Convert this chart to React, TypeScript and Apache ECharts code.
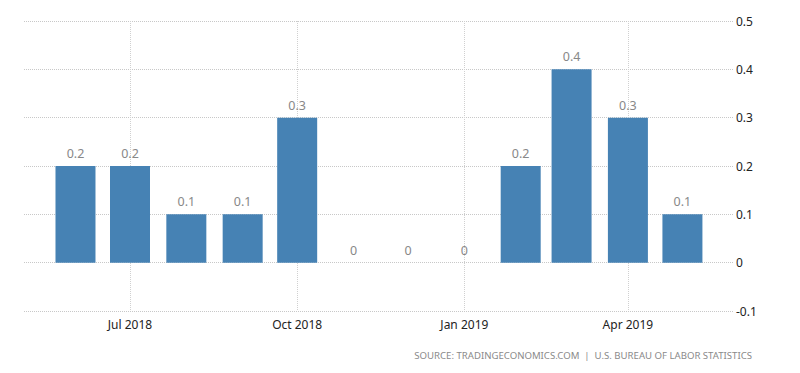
import React, { useEffect, useRef } from "react";
import * as echarts from "echarts";

const months = ["2018-06", "2018-07", "2018-08", "2018-09", "2018-10", "2018-11", "2018-12", "2019-01", "2019-02", "2019-03", "2019-04", "2019-05"];
const values = [0.2, 0.2, 0.1, 0.1, 0.3, 0, 0, 0, 0.2, 0.4, 0.3, 0.1];
const quarterTicks = ["2018-07", "2018-10", "2019-01", "2019-04"];
const monthNames = ["Jan", "Feb", "Mar", "Apr", "May", "Jun", "Jul", "Aug", "Sep", "Oct", "Nov", "Dec"];
const yTicks = { min: -0.1, max: 0.5, interval: 0.1 };
const sourceText = "SOURCE: TRADINGECONOMICS.COM  |  U.S. BUREAU OF LABOR STATISTICS";

const toTs = (ym: string, day = 1, hour = 0) => {
  const [y, m] = ym.split("-").map(Number);
  return Date.UTC(y, m - 1, day, hour);
};

const FONT = "'Noto Sans', 'DejaVu Sans', sans-serif";

export default function App() {
  const ref = useRef<HTMLDivElement>(null);
  useEffect(() => {
    document.body.style.margin = "0";
    if (!ref.current) return;
    const chart = echarts.init(ref.current, undefined, { renderer: "svg" });
    const tickTs = quarterTicks.map((q) => toTs(q));
    chart.setOption({
      animation: false,
      textStyle: { fontFamily: FONT },
      grid: { left: 24, right: 67, top: 21, bottom: 62 },
      xAxis: {
        type: "value",
        min: toTs("2018-05", 3, 16),
        max: toTs("2019-05", 28, 20),
        axisLine: { show: false },
        axisTick: { show: false, customValues: tickTs },
        axisLabel: {
          customValues: tickTs,
          margin: 7,
          fontSize: 12,
          color: "#222",
          fontFamily: FONT,
          formatter: (v: number) => {
            const d = new Date(v);
            return monthNames[d.getUTCMonth()] + " " + d.getUTCFullYear();
          },
        },
        splitLine: { show: true, lineStyle: { color: "#d0d0d0", type: "dotted", width: 1 } },
      },
      yAxis: {
        type: "value",
        position: "right",
        min: yTicks.min,
        max: yTicks.max,
        interval: yTicks.interval,
        axisLine: { show: false },
        axisTick: { show: false },
        axisLabel: {
          margin: 3,
          fontSize: 12,
          color: "#222",
          fontFamily: FONT,
          formatter: (v: number) => String(Math.round(v * 10) / 10),
        },
        splitLine: { show: true, lineStyle: { color: "#c8c8c8", type: "dotted", width: 1 } },
      },
      series: [
        {
          type: "bar",
          barWidth: 40,
          data: months.map((m, i) => [toTs(m), values[i]]),
          itemStyle: { color: "#4682b4" },
          label: {
            show: true,
            position: "top",
            distance: 6,
            color: "#888",
            fontSize: 12.5,
            fontFamily: FONT,
            formatter: (p: any) => String(p.value[1]),
          },
        },
      ],
      graphic: [
        {
          type: "text",
          right: 48,
          top: 350,
          style: { text: sourceText, fontSize: 9.6, fill: "#8a8a8a", fontFamily: FONT },
        },
      ],
    });
    return () => chart.dispose();
  }, []);
  return <div ref={ref} style={{ width: 800, height: 373 }} />;
}
